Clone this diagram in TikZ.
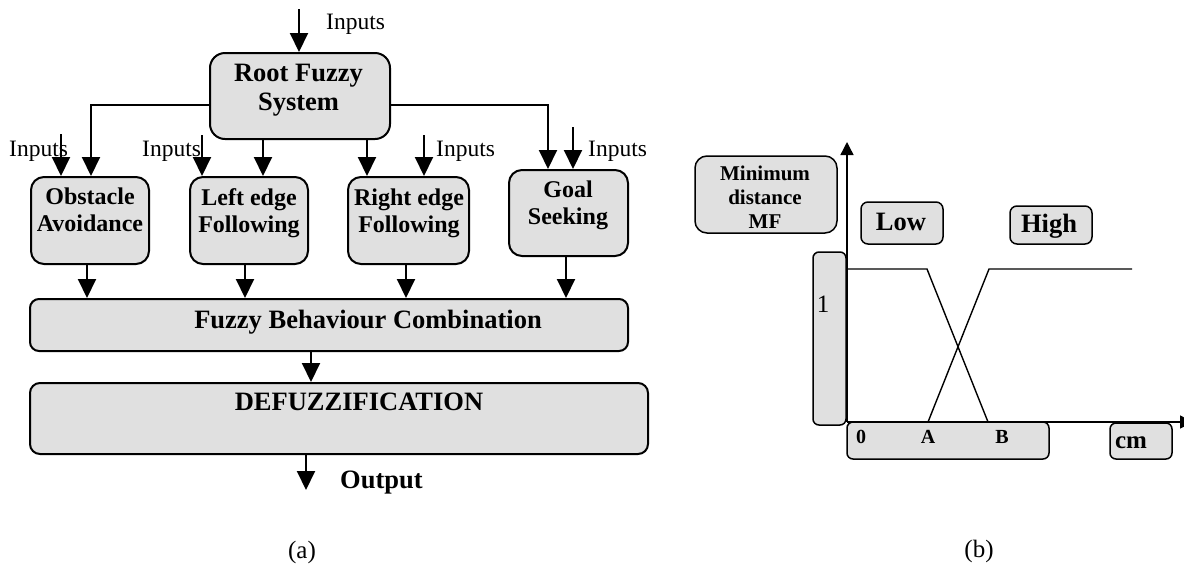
\documentclass[tikz,border=0pt]{standalone}
\usepackage{fontspec}
\setmainfont{Liberation Serif}
\usetikzlibrary{arrows.meta}
\definecolor{boxfill}{RGB}{224,224,224}
% font sizes used in the figure
\newcommand\fsbig{\fontsize{26.5}{29}\selectfont}
\newcommand\fsbox{\fontsize{24}{27}\selectfont}
\newcommand\fsin{\fontsize{23.5}{26}\selectfont}
\newcommand\fsmf{\fontsize{21}{24}\selectfont}
\begin{document}
\begin{tikzpicture}[x=1pt,y=-1pt,
  box/.style={draw, line width=2pt, fill=boxfill, rounded corners=#1, inner sep=0pt},
  box/.default=13pt,
  rbox/.style={draw, line width=1.5pt, fill=boxfill, rounded corners=#1, inner sep=0pt},
  rbox/.default=7pt,
  btext/.style={inner sep=0pt, anchor=north, align=center, font=\bfseries\fsbox},
  intext/.style={inner sep=0pt, anchor=base west, font=\fsin},
  arr/.style={draw, line width=2pt, -{Triangle[length=19pt,width=18pt]}},
  axisarr/.style={draw, line width=1.4pt, -{Triangle[length=13pt,width=13pt]}},
  mf/.style={draw, line width=1.4pt}]
\useasboundingbox (0,0) rectangle (1184,566);

% ---------------- (a) hierarchical fuzzy controller ----------------
\node[box=15pt, minimum width=180pt, minimum height=86pt] (root) at (300,96) {};
\node[btext, font=\bfseries\fsbig] (rootT) at (298.5,64) {Root Fuzzy\\System};

\node[box, minimum width=118pt, minimum height=87pt] (obst) at (90,220.5) {};
\node[btext] (obstT) at (90,188) {Obstacle\\Avoidance};
\node[box, minimum width=118pt, minimum height=87pt] (left) at (249,220.5) {};
\node[btext] (leftT) at (249,188) {Left edge\\Following};
\node[box, minimum width=121pt, minimum height=87pt] (right) at (408.5,220.5) {};
\node[btext] (rightT) at (409,189) {Right edge\\Following};
\node[box, minimum width=119pt, minimum height=86pt] (goal) at (568.5,213) {};
\node[btext] (goalT) at (568,181) {Goal\\Seeking};

\node[box=9pt, minimum width=598pt, minimum height=52pt] (comb) at (329,325) {};
\node[btext, font=\bfseries\fsbig] (combT) at (368,310) {Fuzzy Behaviour Combination};
\node[box=10pt, minimum width=618pt, minimum height=71pt] (defuz) at (339,418.5) {};
\node[btext, font=\bfseries\fsbig] (defuzT) at (359,393) {DEFUZZIFICATION};

% input labels
\node[intext] (inRoot) at (326,29) {Inputs};
\node[intext] (inObst) at (9,156) {Inputs};
\node[intext] (inLeft) at (142,156) {Inputs};
\node[intext] (inRight) at (436,156) {Inputs};
\node[intext] (inGoal) at (588,156) {Inputs};

% input arrows
\coordinate (iRoot) at (299,9);
\coordinate (iObst) at (61,134);
\coordinate (iLeft) at (202,135);
\coordinate (iRight) at (424,135);
\coordinate (iGoal) at (573,127);
\draw[arr] (iRoot) -- (iRoot |- root.north);
\draw[arr] (iObst) -- (iObst |- obst.north);
\draw[arr] (iLeft) -- (iLeft |- left.north);
\draw[arr] (iRight) -- (iRight |- right.north);
\draw[arr] (iGoal) -- (iGoal |- goal.north);

% root outputs to the behaviours
\coordinate (jl) at (91,105);
\coordinate (jr) at (548,105);
\draw[arr] (jl -| root.west) -- (jl) -- (jl |- obst.north);
\draw[arr] (jr -| root.east) -- (jr) -- (jr |- goal.north);
\coordinate (rl) at (263,0);
\coordinate (rr) at (367,0);
\draw[arr] (rl |- root.south) -- (rl |- left.north);
\draw[arr] (rr |- root.south) -- (rr |- right.north);

% behaviours to combination
\coordinate (bo) at (87,0);
\coordinate (bl) at (245,0);
\coordinate (br) at (406,0);
\coordinate (bg) at (566,0);
\draw[arr] (bo |- obst.south) -- (bo |- comb.north);
\draw[arr] (bl |- left.south) -- (bl |- comb.north);
\draw[arr] (br |- right.south) -- (br |- comb.north);
\draw[arr] (bg |- goal.south) -- (bg |- comb.north);

% combination to defuzzification to output
\coordinate (cd) at (311,0);
\draw[arr] (cd |- comb.south) -- (cd |- defuz.north);
\coordinate (outEnd) at (306,490);
\draw[arr] (outEnd |- defuz.south) -- (outEnd);
\node[inner sep=0pt, anchor=base west, font=\bfseries\fsbig] (outT) at (340,488) {Output};

\node[inner sep=0pt, anchor=base, font=\fontsize{25}{28}\selectfont] (capA) at (302,558) {(a)};

% ---------------- (b) membership functions ----------------
\node[rbox=12pt, minimum width=142pt, minimum height=77pt] (mfbox) at (766,194.5) {};
\node[btext, font=\bfseries\fsmf] (mfT) at (765,166) {Minimum\\distance\\MF};
\node[rbox, minimum width=82pt, minimum height=42pt] (low) at (902,223) {};
\node[inner sep=0pt, anchor=base, font=\bfseries\fsbig] (lowT) at (901,230) {Low};
\node[rbox, minimum width=82pt, minimum height=38pt] (high) at (1051,225) {};
\node[inner sep=0pt, anchor=base, font=\bfseries\fsbig] (highT) at (1049,232) {High};
\node[rbox=6pt, minimum width=33pt, minimum height=173pt] (one) at (829.5,338.5) {};
\node[inner sep=0pt, anchor=base, font=\fontsize{25}{28}\selectfont] (oneT) at (823,312) {1};
\node[rbox=6pt, minimum width=202pt, minimum height=37pt] (scale) at (948,440.5) {};
\node[inner sep=0pt, anchor=base, font=\bfseries\fontsize{20}{24}\selectfont] (zeroT) at (861,443) {0};
\node[inner sep=0pt, anchor=base, font=\bfseries\fontsize{20}{24}\selectfont] (aT) at (928,443) {A};
\node[inner sep=0pt, anchor=base, font=\bfseries\fontsize{20}{24}\selectfont] (bT) at (1002,443) {B};
\node[rbox=6pt, minimum width=62pt, minimum height=36pt] (unit) at (1141,441) {};
\node[inner sep=0pt, anchor=base, font=\bfseries\fontsize{25}{28}\selectfont] (unitT) at (1131,448) {cm};

% axes
\coordinate (orig) at (847,422);
\coordinate (ytip) at (847,142);
\coordinate (xtip) at (1193,422);
\draw[axisarr] (orig) -- (ytip);
\draw[axisarr] (orig) -- (xtip);

% Low and High membership functions
\draw[mf] (847,269) -- (927,269) -- (988,422);
\draw[mf] (928,422) -- (989,269) -- (1132,269);

\node[inner sep=0pt, anchor=base, font=\fontsize{25}{28}\selectfont] (capB) at (979,557) {(b)};
\end{tikzpicture}
\end{document}
